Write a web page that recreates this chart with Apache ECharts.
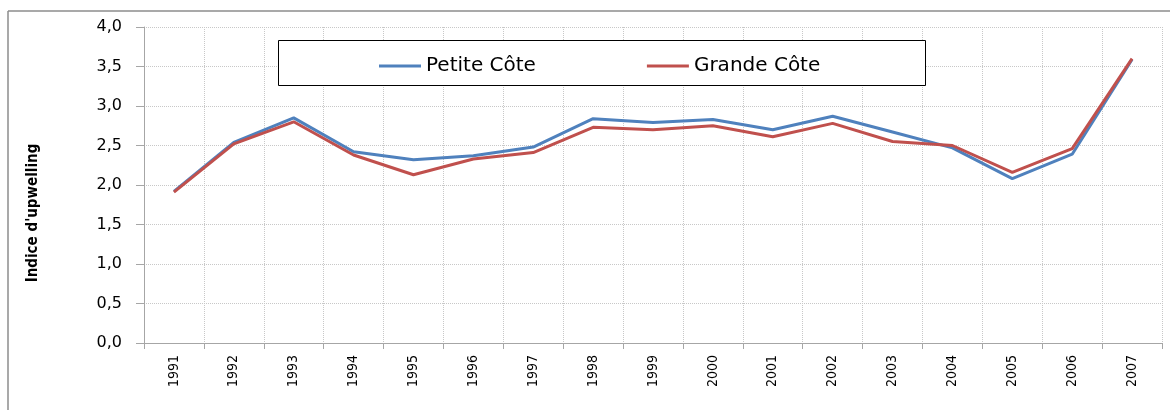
<!DOCTYPE html>
<html>
<head>
<meta charset="utf-8">
<script src="https://cdn.jsdelivr.net/npm/echarts@6/dist/echarts.min.js"></script>
<style>
  html, body { margin: 0; padding: 0; background: #fff; }
  #chart { width: 1170px; height: 410px; }
</style>
</head>
<body>
<div id="chart"></div>
<script>
var years = ["1991", "1992", "1993", "1994", "1995", "1996", "1997", "1998", "1999",
    "2000", "2001", "2002", "2003", "2004", "2005", "2006", "2007"];
var petiteCote = [1.92, 2.54, 2.85, 2.42, 2.32, 2.37, 2.48, 2.84, 2.79, 2.83, 2.70, 2.87, 2.67, 2.47, 2.08, 2.39, 3.59];
var grandeCote = [1.91, 2.52, 2.80, 2.38, 2.13, 2.33, 2.41, 2.73, 2.70, 2.75, 2.61, 2.78, 2.55, 2.50, 2.16, 2.46, 3.60];
var yTitle = "Indice d'upwelling";

var chart = echarts.init(document.getElementById("chart"));

var option = {
    animation: false,
    backgroundColor: "#fff",
    grid: { left: 144, right: 8, top: 27, bottom: 67 },
    graphic: [
        //cadre extérieur
        { type: "line", shape: { x1: 8, y1: 11, x2: 8, y2: 410 }, style: { stroke: "#8c8c8c", lineWidth: 1.5 } },
        { type: "line", shape: { x1: 8, y1: 11, x2: 1170, y2: 11 }, style: { stroke: "#8c8c8c", lineWidth: 1.5 } },
        //boîte de la légende
        { type: "rect", z: 10, shape: { x: 278.5, y: 40.5, width: 647, height: 45 },
          style: { fill: "#fff", stroke: "#000", lineWidth: 1 } },
        //titre de l'axe Y (décalé vers le bas comme dans l'original)
        { type: "text", x: 33, y: 213, rotation: Math.PI / 2,
          style: { text: yTitle, fill: "#000", font: "bold 15px 'DejaVu Sans Condensed'",
                   align: "center", verticalAlign: "middle" } }
    ],
    legend: {
        z: 20,
        left: 374,
        top: 51,
        icon: "rect",
        itemWidth: 42,
        itemHeight: 3,
        itemGap: 111,
        textStyle: { fontFamily: "DejaVu Sans", fontSize: 20, color: "#000" },
        data: ["Petite Côte", "Grande Côte"]
    },
    xAxis: {
        type: "category",
        data: years,
        boundaryGap: true,
        axisLine: { lineStyle: { color: "#a6a6a6", width: 1 } },
        axisTick: { show: true, length: 6, lineStyle: { color: "#a6a6a6" } },
        splitLine: { show: true, lineStyle: { color: "#c8c8c8", type: "dotted", width: 1 } },
        axisLabel: {
            rotate: 90,
            margin: 12,
            color: "#000",
            fontFamily: "DejaVu Sans Condensed",
            fontSize: 14
        }
    },
    yAxis: {
        type: "value",
        min: 0,
        max: 4,
        interval: 0.5,
        axisLine: { show: true, lineStyle: { color: "#a6a6a6", width: 1 } },
        axisTick: { show: true, length: 8, lineStyle: { color: "#a6a6a6" } },
        splitLine: { show: true, lineStyle: { color: "#c8c8c8", type: "dotted", width: 1 } },
        axisLabel: {
            margin: 22,
            color: "#000",
            fontFamily: "DejaVu Sans",
            fontSize: 16,
            formatter: function(v) { return v.toFixed(1).replace(".", ","); }
        }
    },
    series: [
        { name: "Petite Côte", type: "line", data: petiteCote, showSymbol: false,
          itemStyle: { color: "#4f81bd" }, lineStyle: { color: "#4f81bd", width: 3 } },
        { name: "Grande Côte", type: "line", data: grandeCote, showSymbol: false,
          itemStyle: { color: "#c0504d" }, lineStyle: { color: "#c0504d", width: 3 } }
    ]
};

chart.setOption(option);
</script>
</body>
</html>
